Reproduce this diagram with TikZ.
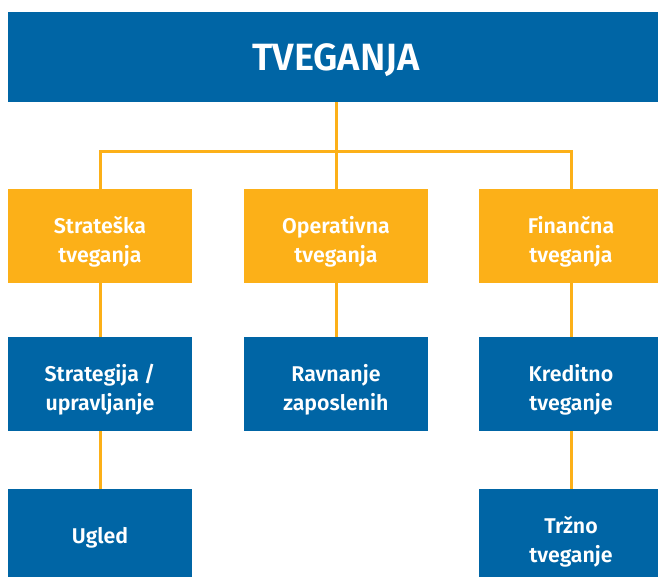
\documentclass[tikz,border=0pt]{standalone}
\usepackage{fontspec}
\setmainfont{Fira Sans}[BoldFont={* SemiBold}]
\definecolor{modraRisk}{RGB}{0,101,165}
\definecolor{rumenaRisk}{RGB}{252,176,24}
\usetikzlibrary{positioning}
\tikzset{
  glavni/.style={rectangle, fill=modraRisk, text=white, inner sep=0pt,
                 minimum width=492pt, minimum height=67.5pt,
                 execute at begin node={\rule{0pt}{25pt}},
                 font=\fontsize{28.5}{34}\selectfont\bfseries},
  okvir/.style={rectangle, text=white, inner sep=0pt,
                minimum width=138pt, minimum height=70pt, align=center,
                font=\fontsize{16}{21.75}\selectfont\bfseries},
  dvovrsticni/.style={execute at begin node={\rule{0pt}{43pt}}},
  enovrsticni/.style={execute at begin node={\rule{0pt}{15pt}}},
  kategorija/.style={okvir, fill=rumenaRisk, dvovrsticni},
  podrocje/.style={okvir, fill=modraRisk, dvovrsticni},
  linija/.style={draw=rumenaRisk, line width=2.25pt},
}
\begin{document}
\begin{tikzpicture}[x=0.75pt, y=-0.75pt]
  \useasboundingbox (0,0) rectangle (658,577);
  \clip (0,0) rectangle (658,577);
  % vrh
  \node[glavni] (tv) at (336,57) {TVEGANJA};
  \coordinate (razcep) at (336,152);
  % kategorije
  \node[kategorija] (st) at (100,236) {Strateška\\tveganja};
  \node[kategorija] (op) at (336,236) {Operativna\\tveganja};
  \node[kategorija] (fi) at (571,236) {Finančna\\tveganja};
  % podrocja
  \node[podrocje] (sg) at (100,384) {Strategija /\\upravljanje};
  \node[podrocje] (rz) at (336,384) {Ravnanje\\zaposlenih};
  \node[podrocje] (kt) at (571,384) {Kreditno\\tveganje};
  \node[okvir, fill=modraRisk, enovrsticni] (ug) at (100,536) {Ugled};
  \node[podrocje] (tr) at (571,536) {Tržno\\tveganje};
  % povezave
  \draw[linija] (tv.south) -- (razcep);
  \draw[linija] (razcep) -| (st.north);
  \draw[linija] (razcep) -| (fi.north);
  \draw[linija] (razcep) -- (op.north);
  \draw[linija] (st.south) -- (sg.north);
  \draw[linija] (op.south) -- (rz.north);
  \draw[linija] (fi.south) -- (kt.north);
  \draw[linija] (sg.south) -- (ug.north);
  \draw[linija] (kt.south) -- (tr.north);
\end{tikzpicture}
\end{document}
